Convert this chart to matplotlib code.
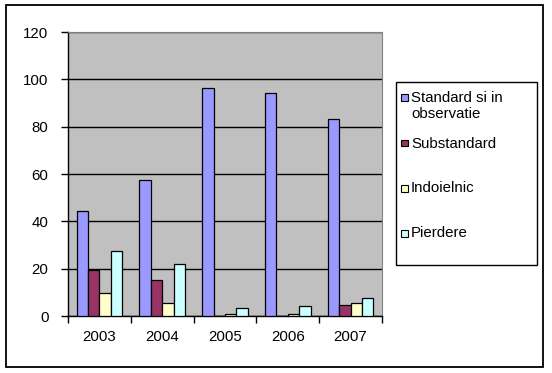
import numpy as np
import matplotlib
matplotlib.use("Agg")
import matplotlib.pyplot as plt
from matplotlib.patches import Rectangle

years = ["2003", "2004", "2005", "2006", "2007"]
standard = [44.2, 57.3, 96.3, 94.2, 83.2]
substandard = [19.4, 15.1, 0, 0, 4.5]
indoielnic = [9.6, 5.4, 0.7, 0.7, 5.4]
pierdere = [27.3, 21.8, 3.2, 4.1, 7.5]

labels = ["Standard si in\nobservatie", "Substandard", "Indoielnic", "Pierdere"]
colors = ["#9999FF", "#993366", "#FFFFCC", "#CCFFFF"]
series = [standard, substandard, indoielnic, pierdere]

plt.rcParams['font.family'] = ['Liberation Sans', 'DejaVu Sans']
fs = 10.8

W, H = 552, 373
fig = plt.figure(figsize=(W / 100, H / 100), dpi=100)

def fx(px):
    return px / W

def fy(py):
    return 1 - py / H

# outer chart border
fig.patches.append(Rectangle((fx(6), fy(367)), fx(543) - fx(6), fy(5) - fy(367),
                             transform=fig.transFigure, fill=False, edgecolor='black', lw=1.3))

ax = fig.add_axes([fx(68), fy(316), fx(382) - fx(68), fy(32) - fy(316)])
ax.set_facecolor('#C0C0C0')

x = np.arange(len(years))
w = 0.182
for i, (vals, col) in enumerate(zip(series, colors)):
    ax.bar(x - 1.5 * w + i * w, vals, width=w, color=col, edgecolor='black', linewidth=0.9, zorder=3)

ax.set_xlim(-0.5, len(years) - 0.5)
ax.set_ylim(0, 120)
ax.set_yticks(np.arange(0, 121, 20))
ax.yaxis.grid(True, color='black', linewidth=1.0, zorder=1)
ax.set_axisbelow(True)

ax.set_xticks(x)
ax.set_xticklabels(years, fontsize=fs)
ax.set_xticks(np.arange(-0.5, len(years), 1), minor=True)
ax.tick_params(axis='x', which='major', length=0, pad=10)
ax.tick_params(axis='x', which='minor', length=5, width=1, direction='out')
ax.tick_params(axis='y', length=5, width=1, direction='out', labelsize=fs, pad=9)

ax.spines['left'].set_linewidth(1)
ax.spines['bottom'].set_linewidth(1)
for s in ['top', 'right']:
    ax.spines[s].set_color('#808080')
    ax.spines[s].set_linewidth(0.8)

# legend drawn by hand (Excel style)
fig.patches.append(Rectangle((fx(396), fy(265)), fx(537) - fx(396), fy(82) - fy(265),
                             transform=fig.transFigure, fill=True, facecolor='white',
                             edgecolor='black', lw=1.0))
key_y = [97.5, 143, 188, 233]
for lab, col, ky in zip(labels, colors, key_y):
    fig.patches.append(Rectangle((fx(401), fy(ky + 3.5)), fx(408) - fx(401), fy(ky - 3.5) - fy(ky + 3.5),
                                 transform=fig.transFigure, facecolor=col, edgecolor='black', lw=0.8))
    fig.text(fx(411), fy(ky - 6.5), lab, fontsize=fs, ha='left', va='top', linespacing=1.2)

fig.savefig("out.png", dpi=100)
